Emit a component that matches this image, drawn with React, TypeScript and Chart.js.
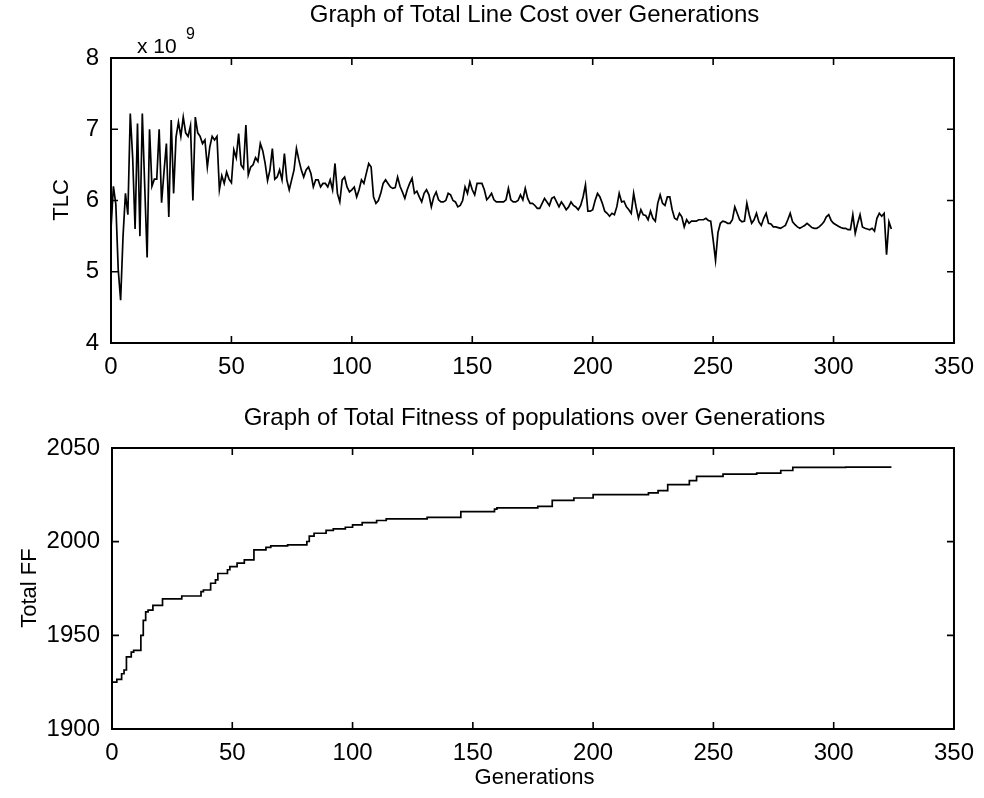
import React, { useEffect, useRef } from "react";
import { Chart, registerables } from "chart.js";

Chart.register(...registerables);

// Total Line Cost (units of 1e9), one value per generation 0..324
const TLC: number[] = [
  5.6, 6.2, 5.95, 5.03, 4.6, 5.5, 6.1, 5.8, 7.22, 6.6,
  5.6, 7.08, 5.5, 7.22, 6.2, 5.2, 7.0, 6.2, 6.3, 6.3,
  7.0, 5.97, 6.4, 6.8, 5.77, 7.13, 6.1, 6.89, 7.1, 6.9,
  7.17, 6.95, 6.9, 7.05, 6.0, 7.17, 6.95, 6.9, 6.8, 6.85,
  6.47, 6.75, 6.9, 6.85, 6.9, 6.15, 6.35, 6.24, 6.4, 6.3,
  6.25, 6.71, 6.6, 6.94, 6.5, 6.45, 7.06, 6.36, 6.47, 6.5,
  6.6, 6.55, 6.8, 6.7, 6.52, 6.28, 6.43, 6.73, 6.3, 6.33,
  6.43, 6.29, 6.66, 6.29, 6.15, 6.29, 6.43, 6.73, 6.57, 6.43,
  6.33, 6.43, 6.47, 6.38, 6.19, 6.29, 6.29, 6.19, 6.24, 6.24,
  6.19, 6.29, 6.15, 6.52, 6.1, 5.98, 6.29, 6.33, 6.19, 6.12,
  6.15, 6.19, 6.05, 6.15, 6.29, 6.24, 6.38, 6.52, 6.47, 6.05,
  5.96, 6.0, 6.1, 6.24, 6.29, 6.24, 6.19, 6.17, 6.18, 6.33,
  6.2, 6.12, 6.03, 6.15, 6.24, 6.31, 6.1, 6.13, 6.05, 5.98,
  6.1, 6.15, 6.08, 5.91, 6.05, 6.12, 6.01, 5.98, 5.98, 6.0,
  6.1, 6.08, 6.0, 5.98, 5.91, 5.93, 6.0, 6.19, 6.1, 6.26,
  6.15, 6.08, 6.24, 6.24, 6.24, 6.15, 6.01, 6.05, 6.1, 6.01,
  5.98, 5.98, 5.98, 5.98, 6.01, 6.17, 6.01, 5.98, 5.98, 6.0,
  6.08, 6.01, 6.17, 6.03, 5.96, 5.96, 5.93, 5.89, 5.89, 5.96,
  6.03, 5.98, 5.93, 6.03, 6.05, 5.98, 5.91, 5.98, 5.93, 5.87,
  5.91, 5.98, 5.93, 5.91, 5.87, 5.93, 6.05, 6.22, 5.85, 5.85,
  5.87, 6.0, 6.1, 6.05, 5.96, 5.85, 5.82, 5.78, 5.82, 5.8,
  5.91, 6.1, 5.98, 5.99, 5.91, 5.87, 5.82, 6.1, 5.91, 5.75,
  5.87, 5.8, 5.79, 5.73, 5.85, 5.75, 5.71, 5.96, 6.08, 5.96,
  5.93, 6.05, 6.05, 5.87, 5.75, 5.73, 5.82, 5.77, 5.63, 5.73,
  5.68, 5.71, 5.71, 5.71, 5.73, 5.73, 5.73, 5.75, 5.72, 5.71,
  5.45, 5.16, 5.55, 5.68, 5.71, 5.7, 5.68, 5.68, 5.73, 5.91,
  5.82, 5.73, 5.7, 5.71, 5.96, 5.8, 5.68, 5.73, 5.82, 5.7,
  5.65, 5.75, 5.82, 5.68, 5.67, 5.63, 5.63, 5.62, 5.61, 5.63,
  5.65, 5.73, 5.82, 5.7, 5.66, 5.63, 5.61, 5.63, 5.65, 5.68,
  5.65, 5.62, 5.61, 5.61, 5.63, 5.66, 5.7, 5.77, 5.8, 5.72,
  5.68, 5.66, 5.64, 5.62, 5.61, 5.61, 5.59, 5.59, 5.8, 5.54,
  5.68, 5.8, 5.63, 5.61, 5.6, 5.59, 5.61, 5.57, 5.75, 5.82,
  5.78, 5.82, 5.24, 5.7, 5.6,
];

// Total fitness: generations where the value changes, and the new value
const FF_GEN: number[] = [
  0, 2, 4, 5, 6, 8, 9, 12, 13, 14, 15, 17, 21, 29, 37, 38, 41, 43, 44, 48,
  49, 52, 55, 59, 64, 66, 73, 81, 82, 84, 89, 92, 97, 100, 104, 110, 114, 131, 145, 159,
  160, 177, 183, 192, 200, 223, 227, 231, 240, 243, 254, 268, 278, 283, 305, 324,
];
const FF_VAL: number[] = [
  1923, 1925, 1926.5, 1929.5, 1931.5, 1938.5, 1941, 1942, 1950, 1958, 1962.5, 1963.5, 1966, 1969.5, 1971, 1973.3, 1974.2, 1977.8, 1979.6, 1983,
  1985, 1986.7, 1988.5, 1990.3, 1995.6, 1997, 1997.8, 1998.3, 2000.1, 2003, 2004.5, 2006, 2006.8, 2007.7, 2009, 2010.2, 2011.3, 2012.2, 2013, 2016,
  2017.4, 2018, 2018.8, 2022, 2023.3, 2025.1, 2026, 2027.2, 2030.4, 2032.6, 2034.9, 2036.1, 2036.6, 2038, 2039.7, 2039.8,
];

const X_TICKS: number[] = [0, 50, 100, 150, 200, 250, 300, 350];
const TLC_TICKS: number[] = [4, 5, 6, 7, 8];
const FF_TICKS: number[] = [1900, 1950, 2000, 2050];

const TITLE_TOP = "Graph of Total Line Cost over Generations";
const TITLE_BOTTOM = "Graph of Total Fitness of populations over Generations";
const YLABEL_TOP = "TLC";
const YLABEL_BOTTOM = "Total FF";
const XLABEL = "Generations";

const FONT = '"Liberation Sans", Arial, sans-serif';
const TICK_SIZE = 24;
const LABEL_SIZE = 22;
const TITLE_SIZE = 24;

type TextItem = {
  text: string;
  x: number;
  y: number;
  size: number;
  rotate?: boolean;
  align?: CanvasTextAlign;
};

function framePlugin(texts: TextItem[], tickVals: { x: number[]; y: number[] }) {
  return {
    id: "matlabFrame",
    afterDraw(chart: any) {
      const ctx: CanvasRenderingContext2D = chart.ctx;
      const { left, right, top, bottom } = chart.chartArea;
      const xs = chart.scales.x;
      const ys = chart.scales.y;
      ctx.save();
      ctx.strokeStyle = "#000";
      ctx.lineWidth = 2;
      ctx.strokeRect(left, top, right - left, bottom - top);
      const L = 7;
      ctx.lineWidth = 1.6;
      ctx.beginPath();
      tickVals.x.forEach((v) => {
        const px = xs.getPixelForValue(v);
        ctx.moveTo(px, bottom);
        ctx.lineTo(px, bottom - L);
        ctx.moveTo(px, top);
        ctx.lineTo(px, top + L);
      });
      tickVals.y.forEach((v) => {
        const py = ys.getPixelForValue(v);
        ctx.moveTo(left, py);
        ctx.lineTo(left + L, py);
        ctx.moveTo(right, py);
        ctx.lineTo(right - L, py);
      });
      ctx.stroke();
      ctx.fillStyle = "#000";
      ctx.textBaseline = "middle";
      texts.forEach((t) => {
        ctx.save();
        ctx.font = `${t.size}px ${FONT}`;
        ctx.textAlign = t.align || "center";
        ctx.translate(t.x, t.y);
        if (t.rotate) ctx.rotate(-Math.PI / 2);
        ctx.fillText(t.text, 0, 0);
        ctx.restore();
      });
      ctx.restore();
    },
  };
}

function makeOptions(
  xTicks: number[],
  yTicks: number[],
  yMin: number,
  yMax: number,
  yWidth: number,
  xHeight: number,
  padding: any
): any {
  return {
    responsive: false,
    animation: false,
    events: [],
    layout: { padding },
    plugins: { legend: { display: false }, title: { display: false }, tooltip: { enabled: false } },
    elements: { point: { radius: 0 } },
    scales: {
      x: {
        type: "linear",
        min: xTicks[0],
        max: xTicks[xTicks.length - 1],
        afterBuildTicks: (s: any) => {
          s.ticks = xTicks.map((v) => ({ value: v }));
        },
        afterFit: (s: any) => {
          s.height = xHeight;
        },
        grid: { display: false, drawTicks: false },
        border: { display: false },
        ticks: {
          color: "#000",
          padding: 10,
          maxRotation: 0,
          autoSkip: false,
          font: { family: FONT, size: TICK_SIZE },
          callback: (v: any) => String(v),
        },
      },
      y: {
        type: "linear",
        min: yMin,
        max: yMax,
        afterBuildTicks: (s: any) => {
          s.ticks = yTicks.map((v) => ({ value: v }));
        },
        afterFit: (s: any) => {
          s.width = yWidth;
        },
        grid: { display: false, drawTicks: false },
        border: { display: false },
        ticks: {
          color: "#000",
          padding: 12,
          autoSkip: false,
          font: { family: FONT, size: TICK_SIZE },
          callback: (v: any) => String(v),
        },
      },
    },
  };
}

export default function App() {
  const topRef = useRef<HTMLCanvasElement | null>(null);
  const botRef = useRef<HTMLCanvasElement | null>(null);

  useEffect(() => {
    const topChart = new Chart(topRef.current as HTMLCanvasElement, {
      type: "line",
      data: {
        datasets: [
          {
            data: TLC.map((v, i) => ({ x: i, y: v })),
            borderColor: "#000",
            borderWidth: 1.7,
            pointRadius: 0,
            tension: 0,
          },
        ],
      },
      options: makeOptions(X_TICKS, TLC_TICKS, 4, 8, 111, 57, { left: 0, right: 26, top: 58, bottom: 0 }),
      plugins: [
        framePlugin(
          [
            { text: TITLE_TOP, x: 534.5, y: 15, size: TITLE_SIZE },
            { text: YLABEL_TOP, x: 62, y: 200, size: LABEL_SIZE, rotate: true },
            { text: "x 10", x: 137, y: 47, size: 21, align: "left" },
            { text: "9", x: 186, y: 35, size: 16, align: "left" },
          ],
          { x: X_TICKS, y: TLC_TICKS }
        ),
      ],
    } as any);

    const botChart = new Chart(botRef.current as HTMLCanvasElement, {
      type: "line",
      data: {
        datasets: [
          {
            data: FF_GEN.map((g, i) => ({ x: g, y: FF_VAL[i] })),
            borderColor: "#000",
            borderWidth: 1.7,
            pointRadius: 0,
            stepped: "after",
          },
        ],
      },
      options: makeOptions(X_TICKS, FF_TICKS, 1900, 2050, 112, 69, { left: 0, right: 26, top: 48, bottom: 0 }),
      plugins: [
        framePlugin(
          [
            { text: TITLE_BOTTOM, x: 534.5, y: 18, size: TITLE_SIZE },
            { text: YLABEL_BOTTOM, x: 30, y: 188, size: LABEL_SIZE, rotate: true },
            { text: XLABEL, x: 534.5, y: 378, size: LABEL_SIZE },
          ],
          { x: X_TICKS, y: FF_TICKS }
        ),
      ],
    } as any);

    return () => {
      topChart.destroy();
      botChart.destroy();
    };
  }, []);

  return (
    <div style={{ position: "fixed", left: 0, top: 0, width: 984, height: 798, background: "#fff" }}>
      <canvas ref={topRef} width={984} height={400} style={{ position: "absolute", left: 0, top: 0, width: 984, height: 400 }} />
      <canvas ref={botRef} width={984} height={398} style={{ position: "absolute", left: 0, top: 400, width: 984, height: 398 }} />
    </div>
  );
}
